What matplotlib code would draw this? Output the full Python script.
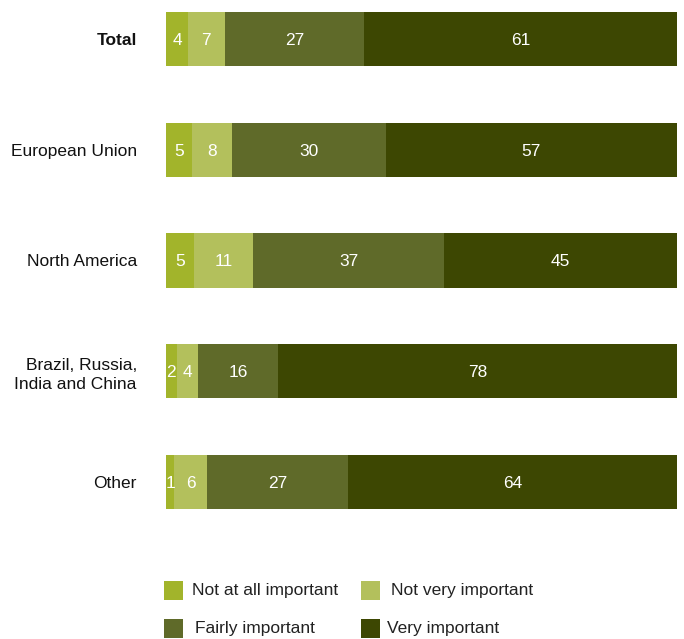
import matplotlib
matplotlib.use("Agg")
import matplotlib.pyplot as plt
from matplotlib.patches import Rectangle
import numpy as np

plt.rcParams['font.family'] = ['Liberation Sans', 'DejaVu Sans']

categories = ["Total", "European Union", "North America", "Brazil, Russia,\nIndia and China", "Other"]
series_names = ["Not at all important", "Not very important", "Fairly important", "Very important"]
# displayed (rounded) values
not_at_all = [4, 5, 5, 2, 1]
not_very = [7, 8, 11, 4, 6]
fairly = [27, 30, 37, 16, 27]
very = [61, 57, 45, 78, 64]
# bar lengths (% share)
share_not_at_all = [4.3, 5.1, 5.5, 2.1, 1.6]
share_not_very = [7.2, 7.8, 11.5, 4.1, 6.5]
share_fairly = [27.2, 30.1, 37.5, 15.8, 27.6]
share_very = [61.3, 57.0, 45.5, 78.0, 64.3]
colors = ["#A2B42B", "#B3C05C", "#5F6A29", "#3D4702"]

W, H = 684, 639
fig = plt.figure(figsize=(W / 100, H / 100), dpi=100)
ax = fig.add_axes([166 / W, 1 - 509 / H, (677 - 166) / W, (509 - 12) / H])

labels = np.array([not_at_all, not_very, fairly, very])
shares = np.array([share_not_at_all, share_not_very, share_fairly, share_very], dtype=float)
shares = shares / shares.sum(axis=0) * 100
y = np.arange(len(categories))
h = 0.49
left = np.zeros(len(categories))
for i in range(4):
    ax.barh(y, shares[i], left=left, height=h, color=colors[i], edgecolor='none')
    for j in range(len(categories)):
        ax.text(left[j] + shares[i][j] / 2, y[j], f"{int(labels[i][j])}",
                ha='center', va='center_baseline', color='white', fontsize=12.5)
    left += shares[i]

ax.set_xlim(0, 100)
ax.set_ylim(len(categories) - 1 + h / 2, -h / 2)
ax.set_yticks(y)
ax.set_yticklabels(categories, fontsize=12.5, ha='right', multialignment='right',
                   linespacing=1.35, color='#111111')
ax.tick_params(axis='y', length=0, pad=21)
ax.get_yticklabels()[0].set_fontweight('bold')
ax.set_xticks([])
for s in ax.spines.values():
    s.set_visible(False)

# Legend
leg = [(164, 581, 192, 0), (361, 581, 391, 1), (164, 619, 195, 2), (361, 619, 387, 3)]
for px, py, tx, k in leg:
    fig.add_artist(Rectangle((px / W, 1 - (py + 19) / H), 19 / W, 19 / H,
                             transform=fig.transFigure, color=colors[k], lw=0))
    fig.text(tx / W, 1 - (py + 10) / H, series_names[k], ha='left', va='center',
             fontsize=12.5, color='#222222')

fig.savefig("out.png", dpi=100)
